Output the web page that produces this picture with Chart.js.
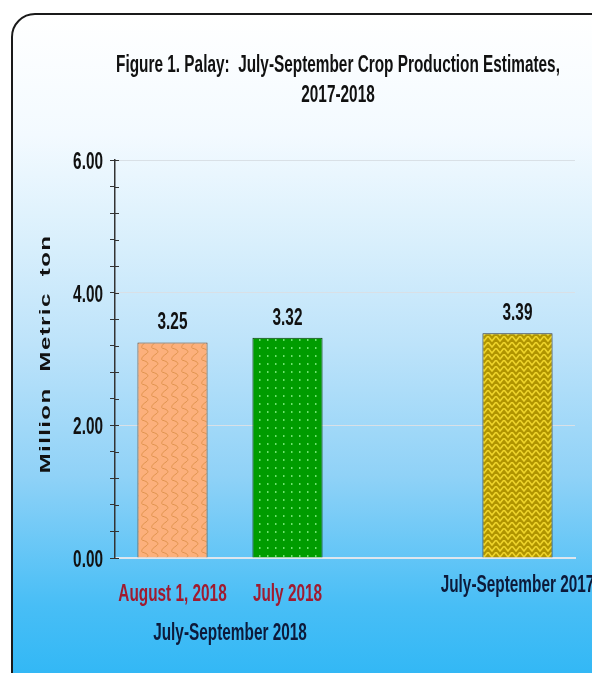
<!DOCTYPE html>
<html>
<head>
<meta charset="utf-8">
<script src="https://cdn.jsdelivr.net/npm/chart.js@4.4.1/dist/chart.umd.min.js"></script>
<style>
  html, body { margin: 0; padding: 0; background: #fff; overflow: hidden; }
  body { width: 592px; height: 673px; position: relative; }
  #frame {
    position: absolute; left: 11px; top: 13px; width: 620px; height: 700px;
    border: 2px solid #1a1a1a; border-radius: 24px;
    background: linear-gradient(to bottom, #ffffff 0px, #f3faff 120px, #d8effc 230px,
      #bde3fa 330px, #90d2f7 460px, #48bef6 590px, #26b4f5 700px);
  }
  #wrap { position: absolute; left: 0; top: 0; width: 592px; height: 673px; }
</style>
</head>
<body>
<div id="frame"></div>
<div id="wrap"><canvas id="chart" width="592" height="673"></canvas></div>
<script>
const titleLines = ["Figure 1. Palay:  July-September Crop Production Estimates,", "2017-2018"];
const categories = ["August 1, 2018", "July 2018", "", "July-September 2017"];
const production = [3.25, 3.32, null, 3.39];
const groupLabel = "July-September 2018";
const yAxisTitle = "Million  Metric  ton";
const labelColors = ["#a01b30", "#a01b30", "#0d1a3a", "#0d1a3a"];

// the source picture is squeezed sideways, so text is drawn narrowed
const squeeze = 0.64;
const textFont = 'bold 24px "Liberation Sans", Arial, sans-serif';

function makeTile(w, h, draw) {
  const c = document.createElement("canvas");
  c.width = w;
  c.height = h;
  draw(c.getContext("2d"));
  return c.getContext("2d").createPattern(c, "repeat");
}

// orange wavy scales
const orangePattern = makeTile(10, 12, (g) => {
  g.fillStyle = "#fcb07c";
  g.fillRect(0, 0, 10, 12);
  g.strokeStyle = "#dc914a";
  g.lineWidth = 0.9;
  g.beginPath();
  g.moveTo(2, 0);
  g.bezierCurveTo(9, 2, 9, 4, 6, 6);
  g.bezierCurveTo(3, 8, 1, 10, 2, 12);
  g.stroke();
});

// green with light dots
const greenPattern = makeTile(8, 8, (g) => {
  g.fillStyle = "#009c00";
  g.fillRect(0, 0, 8, 8);
  g.fillStyle = "#6ee26e";
  g.fillRect(3, 3, 1.5, 2);
});

// olive zigzag
const olivePattern = makeTile(8, 6, (g) => {
  g.fillStyle = "#b09400";
  g.fillRect(0, 0, 8, 6);
  g.strokeStyle = "#eed42a";
  g.lineWidth = 1.6;
  g.beginPath();
  g.moveTo(0, 0);
  g.lineTo(4, 5);
  g.lineTo(8, 0);
  g.stroke();
});

const barFills = [orangePattern, greenPattern, null, olivePattern];
const barBorders = ["#6b4a30", "#0b3d0b", null, "#333"];

function isMajor(v) {
  return Math.abs(v / 2 - Math.round(v / 2)) < 1e-6;
}

function narrowText(ctx, text, x, y, align, color) {
  ctx.save();
  ctx.translate(x, y);
  ctx.scale(squeeze, 1);
  ctx.font = textFont;
  ctx.textAlign = align;
  ctx.textBaseline = "alphabetic";
  ctx.fillStyle = color;
  ctx.fillText(text, 0, 0);
  ctx.restore();
}

const extras = {
  id: "extras",
  afterDraw(chart) {
    const { ctx, chartArea } = chart;
    const xScale = chart.scales.x;
    const yScale = chart.scales.y;
    const meta = chart.getDatasetMeta(0);

    // title
    narrowText(ctx, titleLines[0], 338, 72, "center", "#111");
    narrowText(ctx, titleLines[1], 338, 102, "center", "#111");

    // y ticks: labels and the inner half of each tick mark
    ctx.save();
    ctx.strokeStyle = "#333";
    ctx.lineWidth = 1;
    yScale.ticks.forEach((t) => {
      const py = Math.round(yScale.getPixelForValue(t.value)) + 0.5;
      ctx.beginPath();
      ctx.moveTo(chartArea.left, py);
      ctx.lineTo(chartArea.left + 4, py);
      ctx.stroke();
      if (isMajor(t.value)) {
        narrowText(ctx, t.value.toFixed(2), chartArea.left - 12, py + 8.5, "right", "#111");
      }
    });
    ctx.restore();

    // category labels
    categories.forEach((label, i) => {
      if (!label) return;
      const lift = i === 3 ? 9 : 0;
      narrowText(ctx, label, xScale.getPixelForValue(i), chartArea.bottom + 43 - lift, "center", labelColors[i]);
    });
    const gx = (xScale.getPixelForValue(0) + xScale.getPixelForValue(1)) / 2;
    narrowText(ctx, groupLabel, gx, chartArea.bottom + 82, "center", "#0d1a3a");

    // value labels
    meta.data.forEach((bar, i) => {
      if (production[i] == null) return;
      narrowText(ctx, production[i].toFixed(2), bar.x, bar.y - 13, "center", "#111");
    });

    // y axis title, rotated
    ctx.save();
    ctx.translate(50, (chartArea.top + chartArea.bottom) / 2 - 5);
    ctx.scale(squeeze, 1);
    ctx.rotate(-Math.PI / 2);
    ctx.font = 'bold 24px "Liberation Sans", Arial, sans-serif';
    ctx.letterSpacing = "1.4px";
    ctx.textAlign = "center";
    ctx.textBaseline = "alphabetic";
    ctx.fillStyle = "#111";
    ctx.fillText(yAxisTitle, 0, 0);
    ctx.restore();
  },
};

new Chart(document.getElementById("chart"), {
  type: "bar",
  data: {
    labels: categories,
    datasets: [
      {
        data: production,
        backgroundColor: barFills,
        borderColor: barBorders,
        borderWidth: 1,
        barPercentage: 0.61,
        categoryPercentage: 1,
      },
    ],
  },
  options: {
    responsive: false,
    animation: false,
    layout: { padding: { top: 160, left: 110, right: 17, bottom: 115 } },
    plugins: {
      legend: { display: false },
      tooltip: { enabled: false },
      title: { display: false },
    },
    scales: {
      x: {
        offset: true,
        grid: { display: false, drawTicks: false },
        border: { color: "#dde6ee", width: 2 },
        ticks: { display: false },
      },
      y: {
        min: 0,
        max: 6,
        ticks: { stepSize: 0.4, display: false },
        grid: {
          color: (c) => (c.tick && isMajor(c.tick.value) ? "#d9e0e6" : "rgba(0,0,0,0)"),
          tickColor: "#333",
          tickLength: 5,
        },
        border: { color: "#333", width: 1.5 },
      },
    },
  },
  plugins: [extras],
});
</script>
</body>
</html>
